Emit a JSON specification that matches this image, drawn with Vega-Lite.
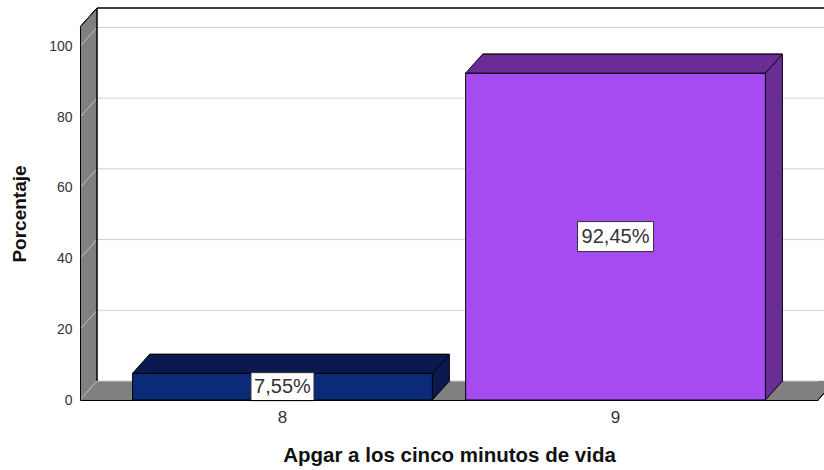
{
  "$schema": "https://vega.github.io/schema/vega-lite/v6.json",
  "autosize": {"type": "none"},
  "width": 738,
  "height": 373,
  "padding": {"left": 80, "top": 27, "right": 6, "bottom": 70},
  "background": "white",
  "config": {"font": "Liberation Sans", "view": {"stroke": null}},
  "data": {"values": [
    {"apgar": "8", "pct": 7.55, "label": "7,55%"},
    {"apgar": "9", "pct": 92.45, "label": "92,45%"}
  ]},
  "resolve": {"scale": {"x": "independent", "fill": "independent", "shape": "independent"}},
  "layer": [
    {
      "mark": {"type": "bar", "stroke": "black", "strokeWidth": 1},
      "encoding": {
        "x": {"field": "apgar", "type": "nominal", "scale": {"type": "band", "paddingInner": 0.1, "paddingOuter": 0.158, "round": false}, "axis": null},
        "y": {"field": "pct", "type": "quantitative", "scale": {"domain": [0, 105.5], "nice": false},
          "axis": {"title": "Porcentaje", "values": [0, 20, 40, 60, 80, 100], "grid": false, "ticks": false, "domainColor": "black", "labelFontSize": 14, "labelColor": "#333333", "labelPadding": 8, "titleFontSize": 19, "titleFontWeight": "bold", "titleColor": "#111111", "titlePadding": 19, "zindex": 1}},
        "y2": {"datum": 0},
        "opacity": {"value": 0}
      }
    },
    {
      "mark": {"type": "rect", "fill": "#808080"},
      "encoding": {
        "x": {"datum": 0, "type": "quantitative", "scale": {"domain": [0, 1]}, "axis": null},
        "x2": {"datum": 1},
        "y": {"datum": 0, "type": "quantitative", "scale": {"domain": [0, 105.5], "nice": false}},
        "y2": {"datum": 105.5}
      }
    },
    {
      "mark": {"type": "rect", "fill": "white", "xOffset": 17, "x2Offset": 17, "yOffset": -19, "y2Offset": -19},
      "encoding": {
        "x": {"datum": 0, "type": "quantitative", "scale": {"domain": [0, 1]}, "axis": null},
        "x2": {"datum": 1},
        "y": {"datum": 0, "type": "quantitative", "scale": {"domain": [0, 105.5], "nice": false}},
        "y2": {"datum": 105.5}
      }
    },
    {
      "data": {"values": [{"tick": 0}, {"tick": 20}, {"tick": 40}, {"tick": 60}, {"tick": 80}, {"tick": 100}]},
      "mark": {"type": "rule", "color": "#cfcfcf", "strokeWidth": 1, "xOffset": 17, "x2Offset": 17, "yOffset": -19},
      "encoding": {
        "x": {"datum": 0, "type": "quantitative", "scale": {"domain": [0, 1]}, "axis": null},
        "x2": {"datum": 1},
        "y": {"field": "tick", "type": "quantitative", "scale": {"domain": [0, 105.5], "nice": false}}
      }
    },
    {
      "data": {"values": [{"tick": 0}, {"tick": 20}, {"tick": 40}, {"tick": 60}, {"tick": 80}, {"tick": 100}]},
      "mark": {"type": "point", "shape": "M0,0L17,-19", "size": 4, "filled": false, "color": "#c4c4c4", "opacity": 1, "strokeWidth": 1},
      "encoding": {
        "x": {"datum": 0, "type": "quantitative", "scale": {"domain": [0, 1]}, "axis": null},
        "y": {"field": "tick", "type": "quantitative", "scale": {"domain": [0, 105.5], "nice": false}}
      }
    },
    {
      "mark": {"type": "point", "shape": "M0,0L17,-19L17,0Z", "size": 4, "filled": true, "color": "#808080", "opacity": 1, "strokeWidth": 0},
      "encoding": {
        "x": {"datum": 0, "type": "quantitative", "scale": {"domain": [0, 1]}, "axis": null},
        "y": {"datum": 105.5, "type": "quantitative", "scale": {"domain": [0, 105.5], "nice": false}}
      }
    },
    {
      "mark": {"type": "point", "shape": "M0,0L17,-19", "size": 4, "filled": false, "color": "black", "opacity": 1, "strokeWidth": 1},
      "encoding": {
        "x": {"datum": 0, "type": "quantitative", "scale": {"domain": [0, 1]}, "axis": null},
        "y": {"datum": 105.5, "type": "quantitative", "scale": {"domain": [0, 105.5], "nice": false}}
      }
    },
    {
      "mark": {"type": "rule", "color": "black", "strokeWidth": 1, "xOffset": 17, "yOffset": -19, "y2Offset": -19},
      "encoding": {
        "x": {"datum": 0, "type": "quantitative", "scale": {"domain": [0, 1]}, "axis": null},
        "y": {"datum": 0, "type": "quantitative", "scale": {"domain": [0, 105.5], "nice": false}},
        "y2": {"datum": 105.5}
      }
    },
    {
      "mark": {"type": "rule", "color": "black", "strokeWidth": 1, "xOffset": 17, "x2Offset": 17, "yOffset": -19},
      "encoding": {
        "x": {"datum": 0, "type": "quantitative", "scale": {"domain": [0, 1]}, "axis": null},
        "x2": {"datum": 1},
        "y": {"datum": 105.5, "type": "quantitative", "scale": {"domain": [0, 105.5], "nice": false}}
      }
    },
    {
      "mark": {"type": "point", "shape": "M0,0L17,-19L0,-19Z", "size": 4, "filled": true, "color": "#808080", "opacity": 1, "strokeWidth": 0},
      "encoding": {
        "x": {"datum": 1, "type": "quantitative", "scale": {"domain": [0, 1]}, "axis": null},
        "y": {"datum": 0, "type": "quantitative", "scale": {"domain": [0, 105.5], "nice": false}}
      }
    },
    {
      "mark": {"type": "point", "shape": "M0,0L17,-19", "size": 4, "filled": false, "color": "black", "opacity": 1, "strokeWidth": 1},
      "encoding": {
        "x": {"datum": 1, "type": "quantitative", "scale": {"domain": [0, 1]}, "axis": null},
        "y": {"datum": 0, "type": "quantitative", "scale": {"domain": [0, 105.5], "nice": false}}
      }
    },
    {
      "mark": {"type": "bar", "stroke": "black", "strokeWidth": 1, "xOffset": 17, "x2Offset": 17, "yOffset": -19, "y2Offset": 0},
      "encoding": {
        "x": {"field": "apgar", "type": "nominal", "scale": {"type": "band", "paddingInner": 0.1, "paddingOuter": 0.158, "round": false}, "axis": null},
        "y": {"field": "pct", "type": "quantitative", "scale": {"domain": [0, 105.5], "nice": false}},
        "y2": {"datum": 0},
        "fill": {"field": "apgar", "type": "nominal", "scale": {"range": ["#0b1a4e", "#6a2c95"]}, "legend": null}
      }
    },
    {
      "mark": {"type": "point", "shape": "M0,0L17,-19L19,-19L19,0Z", "size": 4, "filled": true, "color": "#808080", "opacity": 1, "strokeWidth": 0},
      "encoding": {
        "x": {"field": "apgar", "type": "nominal", "bandPosition": 1, "scale": {"type": "band", "paddingInner": 0.1, "paddingOuter": 0.158, "round": false}, "axis": null},
        "y": {"datum": 0, "type": "quantitative", "scale": {"domain": [0, 105.5], "nice": false}}
      }
    },
    {
      "mark": {"type": "point", "shape": "M0,0L17,-19", "size": 4, "filled": false, "color": "black", "opacity": 1, "strokeWidth": 1},
      "encoding": {
        "x": {"field": "apgar", "type": "nominal", "bandPosition": 1, "scale": {"type": "band", "paddingInner": 0.1, "paddingOuter": 0.158, "round": false}, "axis": null},
        "y": {"datum": 0, "type": "quantitative", "scale": {"domain": [0, 105.5], "nice": false}}
      }
    },
    {
      "mark": {"type": "bar", "stroke": "black", "strokeWidth": 1},
      "encoding": {
        "x": {"field": "apgar", "type": "nominal", "scale": {"type": "band", "paddingInner": 0.1, "paddingOuter": 0.158, "round": false},
          "axis": {"title": "Apgar a los cinco minutos de vida", "labelAngle": 0, "ticks": false, "domainColor": "black", "labelFontSize": 17, "labelColor": "#333333", "labelPadding": 9, "titleFontSize": 20.5, "titleFontWeight": "bold", "titleColor": "#111111", "titlePadding": 20, "zindex": 1}},
        "y": {"field": "pct", "type": "quantitative", "scale": {"domain": [0, 105.5], "nice": false}},
        "y2": {"datum": 0},
        "fill": {"field": "apgar", "type": "nominal", "scale": {"range": ["#0b2a78", "#a64bf1"]}, "legend": null}
      }
    },
    {
      "mark": {"type": "point", "shape": "M-149.9,0L149.9,0L166.9,-19L-132.9,-19Z", "size": 4, "filled": true, "opacity": 1, "stroke": "black", "strokeWidth": 1},
      "encoding": {
        "x": {"field": "apgar", "type": "nominal", "scale": {"type": "band", "paddingInner": 0.1, "paddingOuter": 0.158, "round": false}, "axis": null},
        "y": {"field": "pct", "type": "quantitative", "scale": {"domain": [0, 105.5], "nice": false}},
        "fill": {"field": "apgar", "type": "nominal", "scale": {"range": ["#0b1a4e", "#6a2c95"]}, "legend": null}
      }
    },
    {
      "transform": [{"calculate": "datum.pct / 2", "as": "mid"}],
      "mark": {"type": "point", "size": 4, "filled": true, "opacity": 1, "fill": "white", "stroke": "#333333", "strokeWidth": 1},
      "encoding": {
        "x": {"field": "apgar", "type": "nominal", "scale": {"type": "band", "paddingInner": 0.1, "paddingOuter": 0.158, "round": false}, "axis": null},
        "y": {"field": "mid", "type": "quantitative", "scale": {"domain": [0, 105.5], "nice": false}},
        "shape": {"field": "label", "type": "nominal", "scale": {"range": ["M-31.5,-14L31.5,-14L31.5,14L-31.5,14Z", "M-38,-15L38,-15L38,15L-38,15Z"]}, "legend": null}
      }
    },
    {
      "transform": [{"calculate": "datum.pct / 2", "as": "mid"}],
      "mark": {"type": "text", "fontSize": 20, "color": "#333333", "align": "center", "baseline": "middle"},
      "encoding": {
        "x": {"field": "apgar", "type": "nominal", "scale": {"type": "band", "paddingInner": 0.1, "paddingOuter": 0.158, "round": false}, "axis": null},
        "y": {"field": "mid", "type": "quantitative", "scale": {"domain": [0, 105.5], "nice": false}},
        "text": {"field": "label"}
      }
    }
  ]
}
